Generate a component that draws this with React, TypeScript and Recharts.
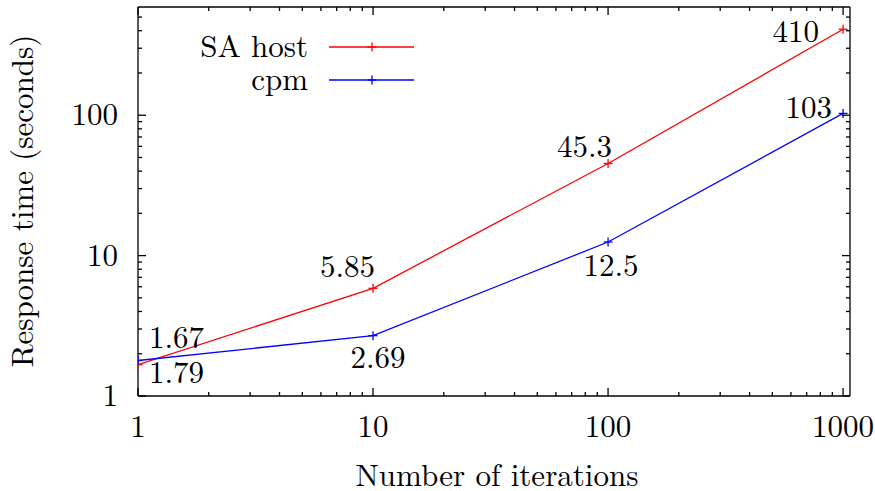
import { LineChart, Line, XAxis, YAxis, LabelList, Legend } from 'recharts'

const iterations = [1, 10, 100, 1000]
const saHost = [1.67, 5.85, 45.3, 410]
const cpm = [1.79, 2.69, 12.5, 103]

const xMajor = [1, 10, 100, 1000]
const yMajor = [1, 10, 100]
const xTicks = [1, 2, 3, 4, 5, 6, 7, 8, 9, 10, 20, 30, 40, 50, 60, 70, 80, 90, 100, 200, 300, 400, 500, 600, 700, 800, 900, 1000]
const yTicks = [1, 2, 3, 4, 5, 6, 7, 8, 9, 10, 20, 30, 40, 50, 60, 70, 80, 90, 100, 200, 300, 400, 500]

const FONT = '"Latin Modern Roman", "Liberation Serif", serif'
const FS = 31
const AXIS_W = 1.3

const data = iterations.map((n, i) => ({ n, saHost: saHost[i], cpm: cpm[i] }))

// label placement per point (dx, dy from marker, anchor)
const saLabelPos = [
  { dx: 11, dy: -17, anchor: 'start' },
  { dx: 2, dy: -11, anchor: 'end' },
  { dx: 4, dy: -7, anchor: 'end' },
  { dx: -24, dy: 13, anchor: 'end' },
]
const cpmLabelPos = [
  { dx: 11, dy: 22, anchor: 'start' },
  { dx: 5, dy: 32, anchor: 'middle' },
  { dx: 3, dy: 34, anchor: 'middle' },
  { dx: -11, dy: 5, anchor: 'end' },
]

const PlusDot = (props: any) => {
  const { cx, cy, stroke } = props
  if (cx == null || cy == null) return null
  return (
    <g>
      <line x1={cx - 4.5} x2={cx + 4.5} y1={cy} y2={cy} stroke={stroke} strokeWidth={1.3} />
      <line x1={cx} x2={cx} y1={cy - 4.5} y2={cy + 4.5} stroke={stroke} strokeWidth={1.3} />
    </g>
  )
}

const PointLabel = (props: any) => {
  const { x, y, value, index, pos } = props
  const p = pos[index]
  return (
    <text x={x + p.dx} y={y + p.dy} textAnchor={p.anchor} fontFamily={FONT} fontSize={FS} fill="#000">
      {value}
    </text>
  )
}

const BottomTick = (props: any) => {
  const { x, y, payload } = props
  const major = xMajor.includes(payload.value)
  return (
    <g>
      <line x1={x} x2={x} y1={y} y2={y - (major ? 8 : 4)} stroke="#000" strokeWidth={AXIS_W} />
      {major && (
        <text x={x} y={y + 41} textAnchor="middle" fontFamily={FONT} fontSize={FS} fill="#000">
          {payload.value}
        </text>
      )}
    </g>
  )
}

const TopTick = (props: any) => {
  const { x, y, payload } = props
  const major = xMajor.includes(payload.value)
  return <line x1={x} x2={x} y1={y} y2={y + (major ? 8 : 4)} stroke="#000" strokeWidth={AXIS_W} />
}

const LeftTick = (props: any) => {
  const { x, y, payload } = props
  const major = yMajor.includes(payload.value)
  return (
    <g>
      <line x1={x} x2={x + (major ? 8 : 4)} y1={y} y2={y} stroke="#000" strokeWidth={AXIS_W} />
      {major && (
        <text x={x - 20} y={y + 10} textAnchor="end" fontFamily={FONT} fontSize={FS} fill="#000">
          {payload.value}
        </text>
      )}
    </g>
  )
}

const RightTick = (props: any) => {
  const { x, y, payload } = props
  const major = yMajor.includes(payload.value)
  return <line x1={x} x2={x - (major ? 8 : 4)} y1={y} y2={y} stroke="#000" strokeWidth={AXIS_W} />
}

const KeyBox = (props: any) => {
  const { payload } = props
  return (
    <svg width={420} height={100}>
      {(payload || []).map((e: any, i: number) => {
        const y = 47 + i * 33
        return (
          <g key={e.value}>
            <text x={308} y={y + 10} textAnchor="end" fontFamily={FONT} fontSize={FS} fill="#000">
              {e.value}
            </text>
            <line x1={329} x2={414} y1={y} y2={y} stroke={e.color} strokeWidth={1.3} />
            <PlusDot cx={372} cy={y} stroke={e.color} />
          </g>
        )
      })}
    </svg>
  )
}

export default function App() {
  return (
    <div style={{ position: 'absolute', left: 0, top: 0, width: 875, height: 491, background: '#fff' }}>
      <LineChart width={875} height={491} data={data} margin={{ top: 6, right: 24, bottom: 0, left: 0 }}>
        <XAxis
          dataKey="n"
          type="number"
          scale="log"
          domain={[1, 1070]}
          allowDataOverflow
          ticks={xTicks}
          interval={0}
          height={95}
          tickSize={0}
          tickMargin={0}
          tick={<BottomTick />}
          axisLine={{ stroke: '#000', strokeWidth: AXIS_W }}
        />
        <XAxis
          xAxisId="top"
          orientation="top"
          dataKey="n"
          type="number"
          scale="log"
          domain={[1, 1070]}
          allowDataOverflow
          ticks={xTicks}
          interval={0}
          height={1}
          tickSize={0}
          tickMargin={0}
          tick={<TopTick />}
          axisLine={{ stroke: '#000', strokeWidth: AXIS_W }}
        />
        <YAxis
          type="number"
          scale="log"
          domain={[1, 590]}
          allowDataOverflow
          ticks={yTicks}
          interval={0}
          width={138}
          tickSize={0}
          tickMargin={0}
          tick={<LeftTick />}
          axisLine={{ stroke: '#000', strokeWidth: AXIS_W }}
          label={{
            value: 'Response time (seconds)',
            content: () => (
              <text
                x={33}
                y={201}
                transform="rotate(-90 33 201)"
                textAnchor="middle"
                fontFamily={FONT}
                fontSize={FS}
                fill="#000"
              >
                Response time (seconds)
              </text>
            ),
          }}
        />
        <YAxis
          yAxisId="right"
          orientation="right"
          type="number"
          scale="log"
          domain={[1, 590]}
          allowDataOverflow
          ticks={yTicks}
          interval={0}
          width={1}
          tickSize={0}
          tickMargin={0}
          tick={<RightTick />}
          axisLine={{ stroke: '#000', strokeWidth: AXIS_W }}
        />
        <Legend
          layout="vertical"
          align="center"
          verticalAlign="middle"
          wrapperStyle={{ left: 0, top: 0, width: 420, height: 100 }}
          content={<KeyBox />}
        />
        <Line
          name="SA host"
          dataKey="saHost"
          stroke="#ff0000"
          strokeWidth={1.3}
          dot={(p: any) => <PlusDot key={`sa-${p.index}`} {...p} />}
          isAnimationActive={false}
        >
          <LabelList dataKey="saHost" content={(p: any) => <PointLabel {...p} pos={saLabelPos} />} />
        </Line>
        <Line
          name="cpm"
          dataKey="cpm"
          stroke="#0000ff"
          strokeWidth={1.3}
          dot={(p: any) => <PlusDot key={`cpm-${p.index}`} {...p} />}
          isAnimationActive={false}
        >
          <LabelList dataKey="cpm" content={(p: any) => <PointLabel {...p} pos={cpmLabelPos} />} />
        </Line>
      </LineChart>
      <div
        style={{
          position: 'absolute',
          left: 0,
          top: 455,
          width: 994,
          textAlign: 'center',
          fontFamily: FONT,
          fontSize: FS,
          lineHeight: '36px',
        }}
      >
        Number of iterations
      </div>
    </div>
  )
}
